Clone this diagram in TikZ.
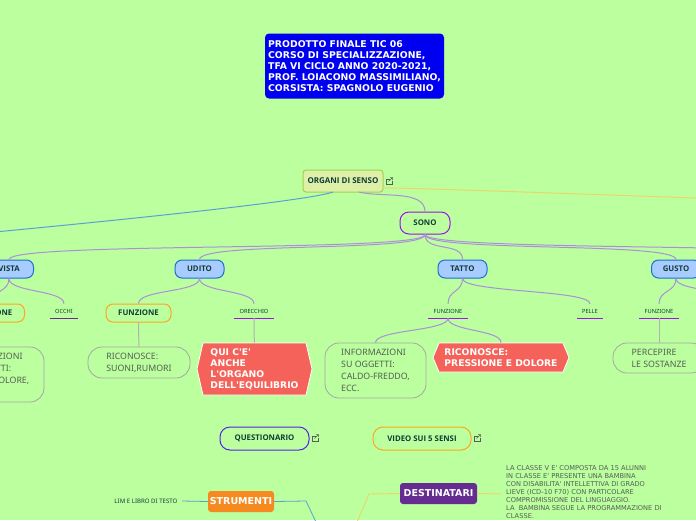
\documentclass[tikz,border=0pt]{standalone}
\usepackage{fontspec}
\setmainfont{Noto Sans}
\newfontfamily\wideface{DejaVu Sans}
\newfontfamily\pillface{Open Sans}
\usetikzlibrary{shapes.symbols}
\definecolor{pagegreen}{HTML}{BBFF9F}
\definecolor{titleblue}{HTML}{0000F0}
\definecolor{rootfill}{HTML}{DCF0A8}
\definecolor{rootline}{HTML}{A6CF50}
\definecolor{sensefill}{HTML}{A8CCFF}
\definecolor{senseline}{HTML}{1A6FD8}
\definecolor{inkgreen}{HTML}{123C38}
\definecolor{inkgrey}{HTML}{555F55}
\definecolor{linkpurple}{HTML}{AC8FD8}
\definecolor{violetline}{HTML}{A010E8}
\definecolor{indigoline}{HTML}{5A20E8}
\definecolor{occhiline}{HTML}{6A2A9A}
\definecolor{orangeline}{HTML}{FFA51E}
\definecolor{redfill}{HTML}{F4625A}
\definecolor{toolorange}{HTML}{F58A20}
\definecolor{destpurple}{HTML}{662D91}
\definecolor{linkblue}{HTML}{5C9FD8}
\definecolor{linkyellow}{HTML}{EFD36A}
\tikzset{
    pill/.style={draw, line width=1pt, rounded corners=7pt, inner sep=0pt, text=inkgreen, font=\fontsize{7.8}{9}\selectfont\pillface\bfseries},
    sense/.style={pill, fill=sensefill, draw=senseline, minimum width=49pt, minimum height=18pt},
    func/.style={pill, draw=orangeline, minimum width=65pt, minimum height=18pt},
    bubble/.style={draw=black!35, line width=0.8pt, rounded corners=14pt, inner sep=0pt, align=left, text=inkgrey, font=\fontsize{8.8}{12}\selectfont},
    leaf/.style={inner sep=0pt, minimum height=14pt, text=inkgreen, font=\fontsize{5.7}{7}\selectfont},
    redsign/.style={shape=signal, signal to=west and east, fill=redfill, draw=white, line width=0.8pt, inner sep=0pt, align=left, text=white, font=\fontsize{9.2}{11}\selectfont\wideface\bfseries},
    tool/.style={draw=none, rounded corners=3pt, inner sep=0pt, minimum height=21pt, text=white, font=\fontsize{9.5}{11}\selectfont\wideface\bfseries},
    link/.style={draw=linkpurple, line width=1pt},
    drop/.style={out=-90, in=90, distance=#1},
    linkicon/.pic={
        \draw[inkgrey, line width=0.5pt] (1,-2) -- (-3,-2) -- (-3,3) -- (3,3) -- (3,0);
        \draw[inkgrey, line width=0.5pt] (-0.5,0.5) -- (3.5,-3.5) (1,-3.5) -- (3.5,-3.5) -- (3.5,-1);
    }
}
\begin{document}
\begin{tikzpicture}[x=1pt, y=-1pt]
\useasboundingbox (0,0) rectangle (696,520);
\clip (0,0) rectangle (696,520);
\fill[pagegreen] (0,0) rectangle (696,520);
% off-page ends
\coordinate (offleft) at (-70,238);
\coordinate (offright) at (900,205);
\coordinate (offsense) at (900,260);
\coordinate (offgusto) at (745,303);
\coordinate (offtool) at (325,541);
\coordinate (offdest) at (349,541);
\coordinate (organileft) at (333,192);
\coordinate (organiright) at (359,192);
\coordinate (organitail) at (383,188);
% nodes
\node[fill=titleblue, rounded corners=4pt, minimum width=179pt, minimum height=65pt, inner sep=0pt, align=left, text=white, font=\fontsize{9.3}{11}\selectfont\wideface\bfseries] (title) at (354.5,66) {PRODOTTO FINALE TIC 06\\CORSO DI SPECIALIZZAZIONE,\\TFA VI CICLO ANNO 2020-2021,\\PROF. LOIACONO MASSIMILIANO,\\CORSISTA: SPAGNOLO EUGENIO};
\node[pill, fill=rootfill, draw=rootline, rounded corners=3pt, minimum width=80pt, minimum height=22pt, font=\fontsize{8}{9}\selectfont\pillface\bfseries] (organi) at (343,181) {ORGANI DI SENSO};
\node[pill, draw=violetline, rounded corners=9pt, minimum width=50pt, minimum height=22pt] (sono) at (425,223) {SONO};
\node[sense] (vista) at (9,269) {VISTA};
\node[sense] (udito) at (199.5,269) {UDITO};
\node[sense] (tatto) at (462.5,269) {TATTO};
\node[sense] (gusto) at (676,269) {GUSTO};
\node[func] (funzionevista) at (-8,313) {FUNZIONE};
\node[func] (funzioneudito) at (138.5,313) {FUNZIONE};
\node[leaf, minimum width=28pt] (occhi) at (64,311) {OCCHI};
\node[leaf, minimum width=40pt] (orecchio) at (254,311) {ORECCHIO};
\node[leaf, minimum width=40pt] (funzionetatto) at (448,311) {FUNZIONE};
\node[leaf, minimum width=26pt] (pelle) at (590,311) {PELLE};
\node[leaf, minimum width=40pt] (funzionegusto) at (659,311) {FUNZIONE};
\node[bubble, minimum width=101pt, minimum height=55pt] (infovista) at (-6.5,374.5) {INFORMAZIONI\\SU OGGETTI:\\FORMA, COLORE,\\ECC.};
\node[bubble, minimum width=102pt, minimum height=31pt] (suoni) at (139,362.5) {RICONOSCE:\\SUONI,RUMORI};
\node[bubble, minimum width=101pt, minimum height=55pt] (infotatto) at (375.5,370.5) {INFORMAZIONI\\SU OGGETTI:\\CALDO-FREDDO,\\ECC.};
\node[bubble, minimum width=92pt, minimum height=30pt] (sostanze) at (659,358) {PERCEPIRE\\LE SOSTANZE};
\node[redsign, minimum width=115pt, minimum height=52pt, signal pointer angle=154] (equilibrio) at (254.5,369) {QUI C'E'\\ANCHE\\L'ORGANO\\DELL'EQUILIBRIO};
\node[redsign, minimum width=136pt, minimum height=29pt, signal pointer angle=135] (pressione) at (501,357.5) {RICONOSCE:\\PRESSIONE E DOLORE};
\node[pill, draw=indigoline, rounded corners=10pt, minimum width=89pt, minimum height=23pt] (questionario) at (264.5,438.5) {QUESTIONARIO};
\node[pill, draw=orangeline, rounded corners=10pt, minimum width=98pt, minimum height=23pt] (video) at (422,438.5) {VIDEO SUI 5 SENSI};
\node[tool, fill=toolorange, minimum width=66pt] (strumenti) at (241,501.5) {STRUMENTI};
\node[tool, fill=destpurple, minimum width=77pt] (destinatari) at (438.5,493.5) {DESTINATARI};
\node[inner sep=0pt, text=inkgreen, minimum width=64pt, font=\fontsize{6.1}{7}\selectfont] (lim) at (146,501) {LIM E LIBRO DI TESTO};
\node[inner sep=0pt, anchor=north west, align=left, text=inkgrey, font=\fontsize{6.67}{8}\selectfont\wideface] (classe) at (506,465) {LA CLASSE V E' COMPOSTA DA 15 ALUNNI\\IN CLASSE E' PRESENTE UNA BAMBINA\\CON DISABILITA' INTELLETTIVA DI GRADO\\LIEVE (ICD-10 F70) CON PARTICOLARE\\COMPROMISSIONE DEL LINGUAGGIO.\\LA\ \ BAMBINA SEGUE LA PROGRAMMAZIONE DI\\CLASSE.};
% link icons
\pic at (389,181) {linkicon};
\pic at (315,438) {linkicon};
\pic at (477,438) {linkicon};
% underlines
\draw[occhiline, line width=1pt] (occhi.south west) -- (occhi.south east);
\foreach \leafname in {orecchio, funzionetatto, pelle, funzionegusto}
    \draw[violetline, line width=1pt] (\leafname.south west) -- (\leafname.south east);
% connectors
\begin{scope}[every edge/.style={link}]
    \path (organileft) edge[out=-160, in=5, distance=35pt, draw=linkblue] (offleft);
    \path (organitail) edge[out=3, in=180, distance=20pt, draw=linkyellow] (offright);
    \path (organiright) edge[out=-15, in=90, distance=22pt] (sono);
    \path (sono) edge[drop=18pt] (vista);
    \path (sono) edge[drop=18pt] (udito);
    \path (sono) edge[drop=18pt] (tatto);
    \path (sono) edge[drop=18pt] (gusto);
    \path (sono) edge[drop=18pt] (offsense);
    \path (vista) edge[drop=14pt] (funzionevista);
    \path (vista) edge[drop=14pt] (occhi);
    \path (udito) edge[drop=14pt] (funzioneudito);
    \path (udito) edge[drop=14pt] (orecchio);
    \path (tatto) edge[drop=14pt] (funzionetatto);
    \path (tatto) edge[drop=14pt] (pelle);
    \path (gusto) edge[drop=14pt] (funzionegusto);
    \path (gusto) edge[drop=14pt] (offgusto);
    \path (funzionetatto) edge[drop=13pt] (infotatto);
    \path (funzionetatto) edge[drop=13pt] (pressione);
    \path (funzioneudito) edge[draw=black!30] (suoni);
    \path (orecchio) edge[draw=black!30] (equilibrio);
    \path (funzionegusto) edge[draw=black!30] (sostanze);
\end{scope}
\draw[linkblue, line width=0.8pt] (lim.east) ++(4,0) -- (strumenti.west);
\draw[linkblue, line width=0.8pt] (strumenti.east) -- (306,501) -- (offtool);
\draw[linkyellow, line width=0.9pt] (destinatari.west) -- (369,494) -- (offdest);
\draw[linkyellow, line width=0.9pt] (destinatari.east) -- (502,494);
\end{tikzpicture}
\end{document}
